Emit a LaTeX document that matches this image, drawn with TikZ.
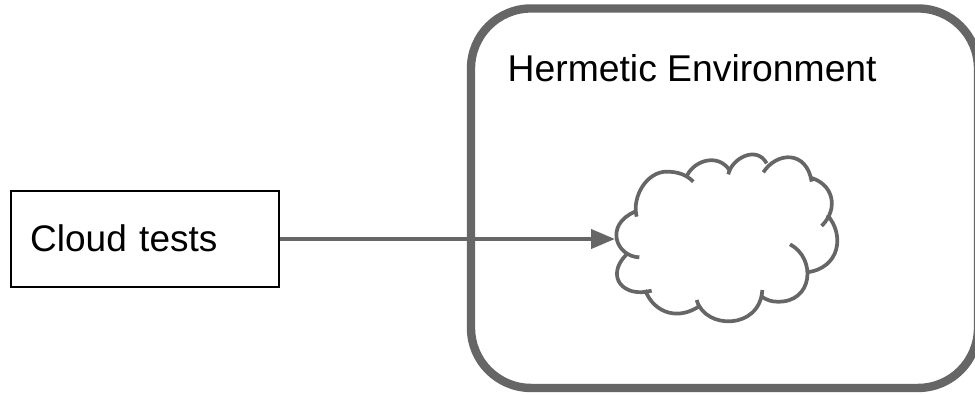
\documentclass[tikz,border=0pt]{standalone}
\usepackage{fontspec}
\setmainfont{Liberation Sans}
\usetikzlibrary{arrows.meta}
\definecolor{edgegray}{HTML}{666666}

\tikzset{
  testbox/.style={draw=black, line width=2pt, minimum width=268pt, minimum height=96pt,
    text width=229pt, inner xsep=19.5pt, inner ysep=0pt, align=left},
  envbox/.style={draw=edgegray, line width=8.4pt, rounded corners=60pt, minimum width=507pt,
    minimum height=379.5pt, inner sep=0pt},
  envlabel/.style={anchor=base west, inner sep=0pt},
  link/.style={draw=edgegray, line width=4pt, -{Triangle[length=24pt,width=19pt]}},
  puff/.style={draw=edgegray, line width=3.7pt}
}

\begin{document}
\begin{tikzpicture}[x=1pt,y=-1pt,font=\fontsize{37.3}{42}\selectfont]
            \useasboundingbox (0,0) rectangle (975,394);
            \node [testbox] (tests) at (144.7,238.7) {\raisebox{-1.5pt}{\fontsize{37}{42}\selectfont Cloud tests}};
            \node [envbox] (env) at (724.5,198.2) {};
            \node [envlabel] (envtext) at (507.5,81) {Hermetic Environment};
            \coordinate (cloudtip) at (615,239);
            \path [link] (tests.east |- cloudtip) -- (cloudtip);
            % cloud lobes, in units of a third of a pixel
            \begin{scope}[shift={(590,140)},x=0.3333pt,y=-0.3333pt]
            	\path [puff]
            	(140,230) .. controls (125,170) and (170,95) .. (230,95) .. controls (265,95) and (290,105) .. (310,125)
            	(292,105) .. controls (315,60) and (385,40) .. (418,90)
            	(415,103) .. controls (425,55) and (500,15) .. (530,70)
            	(520,97) .. controls (560,35) and (650,30) .. (665,125)
            	(658,112) .. controls (730,130) and (748,205) .. (695,258)
            	(712,225) .. controls (765,285) and (750,385) .. (650,397)
            	(600,313) .. controls (680,355) and (670,490) .. (560,485) .. controls (545,485) and (530,480) .. (515,470)
            	(517,450) .. controls (510,570) and (345,570) .. (320,480)
            	(330,497) .. controls (270,540) and (195,525) .. (165,450)
            	(185,452) .. controls (100,475) and (45,410) .. (108,345)
            	(148,352) .. controls (78,350) and (42,255) .. (135,215);
            \end{scope}
            \end{tikzpicture}
\end{document}
